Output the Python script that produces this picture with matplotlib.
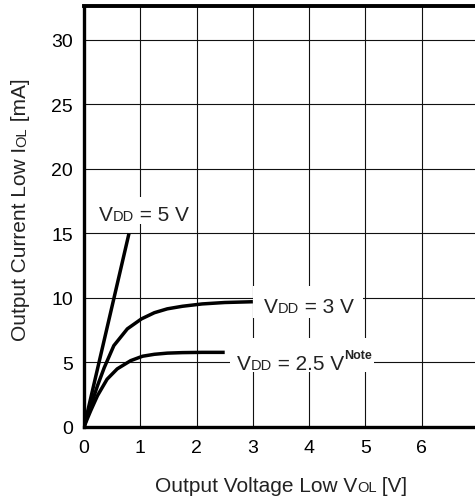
#!/usr/bin/env python

# Output current low vs output voltage low, for three supply voltages

import matplotlib
matplotlib.use("Agg")
import matplotlib.pyplot as plt
from matplotlib.patches import Rectangle
from matplotlib.transforms import IdentityTransform
import numpy as np

plt.rcParams['font.family'] = ['Liberation Sans', 'DejaVu Sans']

# data (V, mA)
vol_5v = [0, 0.8]
iol_5v = [0, 15]

vol_3v = [0, 0.06, 0.12, 0.24, 0.36, 0.53, 0.77, 1.02, 1.25, 1.48, 1.75, 2.1, 2.5, 3.0]
iol_3v = [0, 0.85, 1.65, 3.2, 4.6, 6.3, 7.6, 8.37, 8.85, 9.15, 9.35, 9.53, 9.64, 9.7]

vol_25v = [0, 0.06, 0.12, 0.24, 0.41, 0.59, 0.83, 1.04, 1.25, 1.48, 1.75, 2.1, 2.5]
iol_25v = [0, 0.65, 1.27, 2.43, 3.7, 4.5, 5.14, 5.48, 5.63, 5.72, 5.76, 5.78, 5.78]

xticks = [0, 1, 2, 3, 4, 5, 6, 7]
xticklabels = ['0', '1', '2', '3', '4', '5', '6', '']
yticks = [0, 5, 10, 15, 20, 25, 30]

W, H = 475, 502
fig = plt.figure(figsize=(W / 100, H / 100), dpi=100)
ax = fig.add_axes([84 / W, 1 - 428 / H, 394 / W, 421 / H])

for xs, ys in [(vol_5v, iol_5v), (vol_3v, iol_3v), (vol_25v, iol_25v)]:
    ax.plot(xs, ys, color='black', lw=2.5, solid_capstyle='butt',
            solid_joinstyle='round', zorder=3)

ax.set_xlim(0, 7)
ax.set_ylim(0, 32.6)
ax.set_xticks(xticks)
ax.set_xticklabels(xticklabels)
ax.set_yticks(yticks)
ax.tick_params(length=0, labelsize=14)
ax.tick_params(axis='x', pad=9)
ax.tick_params(axis='y', pad=8)
ax.grid(True, color='#111111', lw=0.8)
ax.set_axisbelow(True)
for side in ['left', 'bottom']:
    ax.spines[side].set_linewidth(2.4)
ax.spines['top'].set_linewidth(2.8)
ax.spines['right'].set_visible(False)

renderer = fig.canvas.get_renderer()


def rich(x, y, pieces, rotation=0, center=False, box=None):
    # x, y: pixel position of the baseline start, measured from the top-left corner
    x0, y0 = x, H - y
    texts, widths = [], []
    for s, size, weight, rise in pieces:
        t = fig.text(0, 0, s, fontsize=size, fontweight=weight, color='#222222',
                     ha='left', va='baseline', rotation_mode='anchor',
                     transform=IdentityTransform())
        widths.append(t.get_window_extent(renderer).width)
        t.set_rotation(rotation)
        texts.append(t)
    c, sn = np.cos(np.radians(rotation)), np.sin(np.radians(rotation))
    if center:
        x0 -= c * sum(widths) / 2
        y0 -= sn * sum(widths) / 2
    pos = 0
    for t, w, p in zip(texts, widths, pieces):
        rise = p[3]
        t.set_position((x0 + c * pos - sn * rise, y0 + sn * pos + c * rise))
        pos += w
    if box is not None:
        # box = (left pad, right pad, top pad, bottom pad) around the baseline/cap line
        ext = [t.get_window_extent(renderer) for t in texts]
        l = min(e.x0 for e in ext) - box[0]
        r = max(e.x1 for e in ext) + box[1]
        tp = max(e.y1 for e in ext) + box[2]
        b = (H - y) - box[3]
        fig.add_artist(Rectangle((l, b), r - l, tp - b, facecolor='white',
                                 edgecolor='none', transform=IdentityTransform(),
                                 zorder=1))
        for t in texts:
            t.set_zorder(2)
    return texts


big, small = 15, 10.5

rich(99, 221, [('V', big, 'normal', 0), ('DD', small, 'normal', 0),
               (' = 5 V', big, 'normal', 0)], box=(7, 6, 8, 4))
rich(264, 313, [('V', big, 'normal', 0), ('DD', small, 'normal', 0),
                (' = 3 V', big, 'normal', 0)], box=(11, 9, 11, 6))
rich(237, 370, [('V', big, 'normal', 0), ('DD', small, 'normal', 0),
                (' = 2.5 V', big, 'normal', 0), ('Note', 9, 'bold', 11)],
     box=(7, 2, 11, 3))

rich(281, 492, [('Output Voltage Low V', big, 'normal', 0), ('OL', small, 'normal', 0),
                (' [V]', big, 'normal', 0)], center=True)
rich(26, 210, [('Output Current Low I', big, 'normal', 0), ('OL', small, 'normal', 0),
               (' [mA]', big, 'normal', 0)], rotation=90, center=True)

fig.savefig('out.png', dpi=100)
